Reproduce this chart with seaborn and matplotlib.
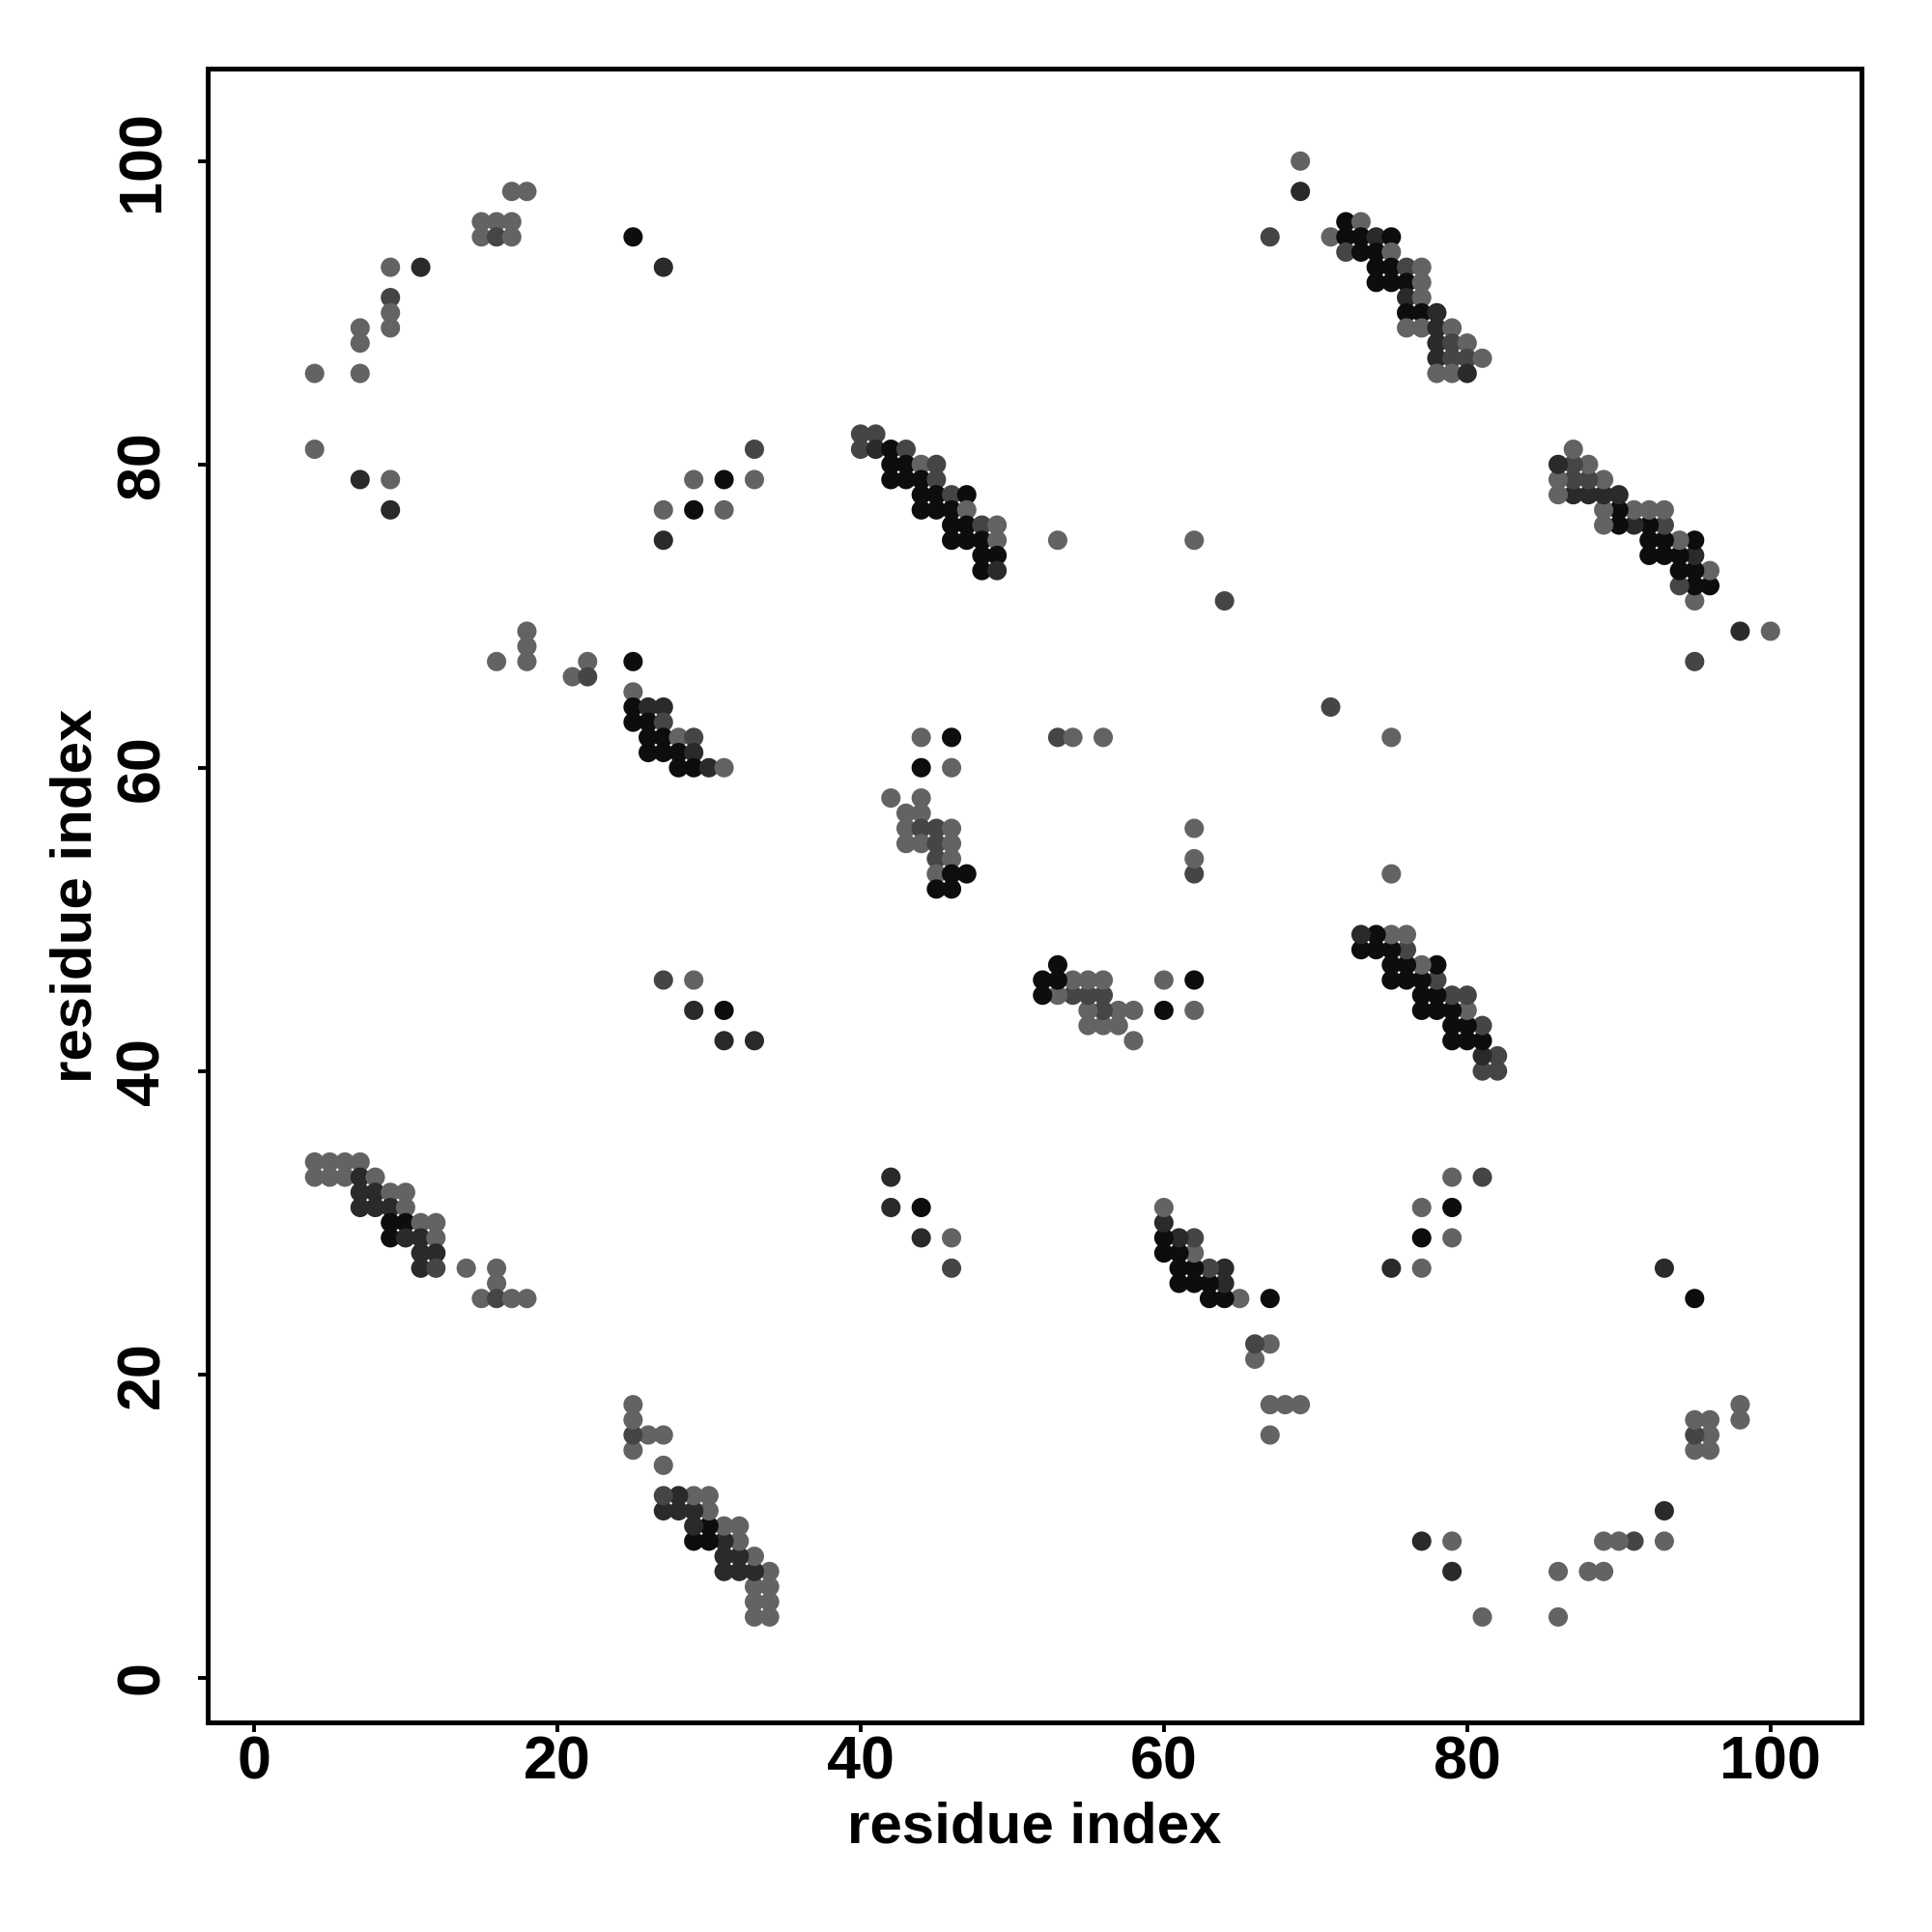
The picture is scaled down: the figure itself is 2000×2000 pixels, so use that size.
import pandas as pd
import matplotlib
matplotlib.use("Agg")
from matplotlib import pyplot as plt
import seaborn as sns

# contact map, upper triangle only (i < j); the map is symmetric
# level: 1 = grey, 2 = dark grey, 3 = very dark, 4 = black
res_i = [17, 18, 15, 16, 17, 15, 16, 17, 25, 9, 11, 9, 9, 9, 7, 7, 4, 7, 4, 7, 9, 9,
         27, 33, 29, 31, 33, 27, 29, 31, 27,
         40, 41, 40, 41, 42, 43, 42, 43, 44, 45, 42, 43, 44, 45, 44, 45, 46, 47,
         44, 45, 46, 47, 46, 47, 48, 49, 46, 47, 48, 49, 48, 49, 48, 49,
         16, 18, 18, 18, 22, 21, 22,
         25, 25, 25, 26, 27, 25, 26, 27, 26, 27, 28, 29, 26, 27, 28, 29, 28, 29, 30, 31,
         44, 46, 44, 46, 42, 44, 43, 44, 43, 44, 45, 46, 43, 44, 45, 46, 45, 46, 45, 46, 47, 45, 46,
         69, 69, 67, 72, 73, 71, 72, 73, 74, 75, 72, 73, 74, 75, 74, 75, 76, 77, 74, 75, 76, 77,
         76, 77, 76, 77, 78, 76, 77, 78, 79, 78, 79, 80, 78, 79, 80, 81, 78, 79, 80,
         53, 62, 64, 53, 54, 56,
         4, 5, 6, 7, 4, 5, 6, 7, 8, 7, 8, 9, 10, 7, 8, 9, 10, 9, 10, 11, 12, 9, 10, 11, 12,
         11, 12, 11, 12, 14, 16, 16, 15, 16, 17, 18,
         27, 29, 29, 31, 31, 33]
res_j = [98, 98, 96, 96, 96, 95, 95, 95, 95, 93, 93, 91, 90, 89, 89, 88, 86, 86, 81, 79, 79, 77,
         93, 81, 79, 79, 79, 77, 77, 77, 75,
         82, 82, 81, 81, 81, 81, 80, 80, 80, 80, 79, 79, 79, 79, 78, 78, 78, 78,
         77, 77, 77, 77, 76, 76, 76, 76, 75, 75, 75, 75, 74, 74, 73, 73,
         67, 69, 68, 67, 67, 66, 66,
         67, 65, 64, 64, 64, 63, 63, 63, 62, 62, 62, 62, 61, 61, 61, 61, 60, 60, 60, 60,
         62, 62, 60, 60, 58, 58, 57, 57, 56, 56, 56, 56, 55, 55, 55, 55, 54, 54, 53, 53, 53, 52, 52,
         100, 98, 95, 96, 96, 95, 95, 95, 95, 95, 94, 94, 94, 94, 93, 93, 93, 93, 92, 92, 92, 92,
         91, 91, 90, 90, 90, 89, 89, 89, 89, 88, 88, 88, 87, 87, 87, 87, 86, 86, 86,
         75, 75, 71, 62, 62, 62,
         34, 34, 34, 34, 33, 33, 33, 33, 33, 32, 32, 32, 32, 31, 31, 31, 31, 30, 30, 30, 30, 29, 29, 29, 29,
         28, 28, 27, 27, 27, 27, 26, 25, 25, 25, 25,
         46, 46, 44, 44, 42, 42]
level = [1, 1, 1, 1, 1, 1, 2, 1, 4, 1, 3, 2, 1, 1, 1, 1, 1, 1, 1, 3, 1, 3,
         3, 2, 1, 4, 1, 1, 4, 1, 3,
         2, 2, 2, 3, 4, 2, 4, 4, 1, 2, 4, 4, 4, 2, 4, 4, 2, 4,
         4, 4, 4, 1, 4, 4, 2, 1, 4, 4, 4, 1, 4, 4, 4, 3,
         1, 1, 1, 1, 1, 1, 2,
         4, 1, 4, 3, 3, 4, 4, 2, 4, 4, 1, 2, 4, 4, 4, 3, 4, 4, 3, 1,
         1, 4, 4, 1, 1, 1, 1, 1, 1, 2, 2, 1, 1, 1, 2, 1, 2, 1, 1, 4, 4, 4, 4,
         1, 3, 2, 4, 1, 1, 4, 4, 3, 4, 2, 4, 4, 1, 4, 4, 2, 1, 4, 4, 4, 1,
         3, 1, 4, 4, 3, 1, 1, 3, 1, 3, 2, 1, 3, 2, 2, 1, 1, 1, 3,
         1, 1, 2, 2, 1, 1,
         1, 1, 1, 1, 1, 1, 1, 3, 1, 3, 3, 1, 1, 3, 3, 3, 1, 4, 4, 1, 1, 4, 3, 3, 1,
         3, 3, 3, 2, 1, 1, 1, 1, 2, 1, 1,
         2, 1, 3, 4, 3, 3]

gray_levels = {1: "#636363", 2: "#454545", 3: "#2a2a2a", 4: "#0d0d0d"}
tick_values = [0, 20, 40, 60, 80, 100]

upper = pd.DataFrame({"i": res_i, "j": res_j, "level": level})
lower = upper.rename(columns={"i": "j", "j": "i"})
contacts = pd.concat([upper, lower], ignore_index=True)

sns.set_theme(style="white")
plt.rcParams['font.family'] = ['Liberation Sans', 'DejaVu Sans']
plt.rcParams['font.weight'] = 'bold'

fig = plt.figure(figsize=(10, 10), dpi=200)
ax = fig.add_axes([0.1075, 0.1085, 0.856, 0.856])

sns.scatterplot(data=contacts, x="i", y="j", hue="level", palette=gray_levels,
                s=52, linewidth=0, legend=False, ax=ax)

ax.set_xlim(-3.05, 106.0)
ax.set_ylim(-2.95, 106.1)
ax.set_xticks(tick_values)
ax.set_yticks(tick_values)

for spine in ax.spines.values():
    spine.set_visible(True)
    spine.set_color("black")
    spine.set_linewidth(1.8)

ax.tick_params(direction="out", length=3.6, width=1.4, color="black",
               labelsize=22.6, labelcolor="black", bottom=True, left=True)
ax.tick_params(axis="x", pad=1)
ax.tick_params(axis="y", pad=10, labelrotation=90)
for lab in ax.get_yticklabels():
    lab.set_verticalalignment("center")

ax.set_xlabel("residue index", fontsize=21.6, fontweight="bold", color="black")
ax.set_ylabel("residue index", fontsize=21.6, fontweight="bold", color="black")
ax.xaxis.set_label_coords(0.5, -0.0637)
ax.xaxis.label.set_verticalalignment("center")
ax.yaxis.set_label_coords(-0.0794, 0.5)
ax.yaxis.label.set_verticalalignment("center")

fig.savefig("out.png", dpi=200)
